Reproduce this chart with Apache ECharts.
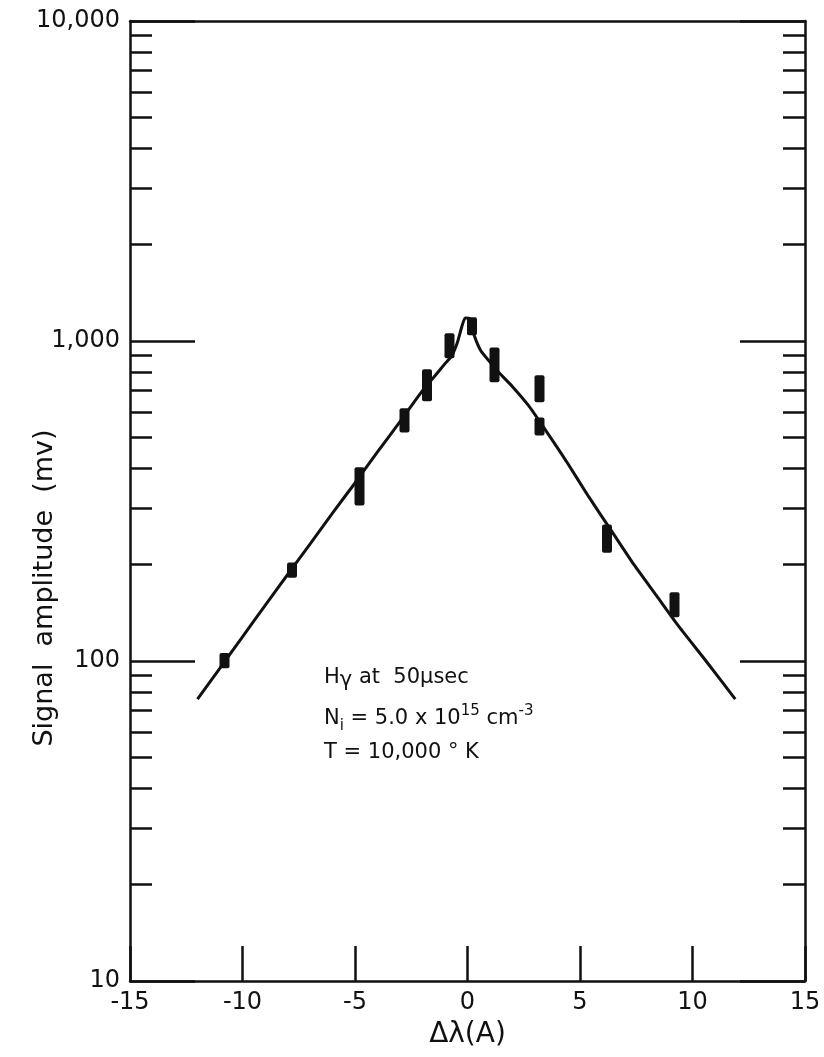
<!DOCTYPE html>
<html>
<head>
<meta charset="utf-8">
<script src="https://cdn.jsdelivr.net/npm/echarts@6/dist/echarts.min.js"></script>
<style>
  html, body { margin: 0; padding: 0; background: #fff; }
  #chart { width: 824px; height: 1057px; }
</style>
</head>
<body>
<div id="chart"></div>
<script>
// Wavelength offsets (Å) and measured signal ranges (mV) for the error bars
const barX    = [-10.8, -7.8, -4.8, -2.8, -1.8, -0.8, 0.2, 1.2, 3.2, 3.2, 6.2, 9.2];
const barLow  = [95, 182, 306, 518, 648, 883, 1042, 743, 643, 507, 218, 137];
const barHigh = [106, 203, 403, 616, 816, 1057, 1186, 955, 781, 577, 267, 164];

// Fitted line profile
const curveX = [-12.0, -11.0, -10.0, -9.0, -8.0, -7.0, -6.0, -5.0, -4.0, -3.0, -2.0, -1.5, -1.0, -0.7, -0.45, -0.25, -0.1,
                0.1, 0.3, 0.6, 1.0, 1.3, 2.0, 2.7, 3.4, 4.4, 5.4, 6.4, 7.4, 8.4, 9.4, 10.6, 11.9];
const curveY = [76, 95, 119, 149, 186, 232, 290, 360, 450, 560, 700, 770, 850, 900, 990, 1110, 1180,
                1175, 1040, 930, 860, 810, 720, 630, 535, 420, 325, 255, 200, 160, 128, 100, 76];

// Axis ticks
const xTickStep = 5;
const yMajorTicks = [10, 100, 1000, 10000];
const yMinorTicks = [20, 30, 40, 50, 60, 70, 80, 90,
                     200, 300, 400, 500, 600, 700, 800, 900,
                     2000, 3000, 4000, 5000, 6000, 7000, 8000, 9000];

const FONT = '"DejaVu Sans", sans-serif';
const INK = '#111';

function yAxisDef(position, ticks, len, showLine, showLabel) {
  return {
    type: 'log', logBase: 10, min: 10, max: 10000, position: position,
    axisLine: { show: showLine, onZero: false, lineStyle: { color: INK, width: 2.5 } },
    axisTick: { show: true, inside: true, length: len, customValues: ticks,
                lineStyle: { color: INK, width: 2.5 } },
    axisLabel: { show: showLabel, customValues: ticks, color: INK, fontSize: 24, fontFamily: FONT, margin: 10,
                 formatter: v => Math.round(v).toLocaleString('en-US') },
    splitLine: { show: false }
  };
}

const chart = echarts.init(document.getElementById('chart'), null, { renderer: 'canvas' });

chart.setOption({
  backgroundColor: '#fff',
  animation: false,
  grid: { left: 130, right: 19, top: 21, bottom: 76, containLabel: false },
  xAxis: [
    {
      type: 'value', min: -15, max: 15, interval: xTickStep, position: 'bottom',
      name: 'Δλ(A)', nameLocation: 'middle', nameGap: 40,
      nameTextStyle: { color: INK, fontSize: 28, fontFamily: FONT },
      axisLine: { onZero: false, lineStyle: { color: INK, width: 2.5 } },
      axisTick: { inside: true, length: 35, lineStyle: { color: INK, width: 2.5 } },
      axisLabel: { color: INK, fontSize: 24, fontFamily: FONT, margin: 10 },
      splitLine: { show: false }
    },
    {
      type: 'value', min: -15, max: 15, position: 'top',
      axisLine: { onZero: false, lineStyle: { color: INK, width: 2.5 } },
      axisTick: { show: false }, axisLabel: { show: false }, splitLine: { show: false }
    }
  ],
  yAxis: [
    yAxisDef('left', yMajorTicks, 65, true, true),
    yAxisDef('left', yMinorTicks, 22, false, false),
    yAxisDef('right', yMajorTicks, 65, true, false),
    yAxisDef('right', yMinorTicks, 22, false, false)
  ],
  graphic: [
    {
      type: 'text', x: 45, y: 588, rotation: Math.PI / 2,
      style: { text: 'Signal  amplitude  (mv)', fill: INK, font: '27px ' + FONT,
               align: 'center', verticalAlign: 'middle' }
    },
    {
      type: 'text', left: 324, top: 664,
      style: {
        text: 'H{sub|γ} at  50μsec', fill: INK, font: '21px ' + FONT, lineHeight: 28,
        rich: { sub: { font: '21px ' + FONT, fill: INK, padding: [6, 0, 0, 0] } }
      }
    },
    {
      type: 'text', left: 324, top: 704,
      style: {
        text: 'N{sub|i} = 5.0 x 10{sup|15} cm{sup|-3}', fill: INK, font: '21px ' + FONT, lineHeight: 30,
        rich: {
          sub: { font: '15px ' + FONT, fill: INK, verticalAlign: 'bottom', lineHeight: 30 },
          sup: { font: '15px ' + FONT, fill: INK, verticalAlign: 'top', lineHeight: 30 }
        }
      }
    },
    {
      type: 'text', left: 324, top: 742,
      style: { text: 'T = 10,000 ° K', fill: INK, font: '21px ' + FONT }
    }
  ],
  series: [
    {
      type: 'line', xAxisIndex: 0, yAxisIndex: 0,
      data: curveX.map((x, i) => [x, curveY[i]]),
      smooth: 0.2, showSymbol: false,
      lineStyle: { color: INK, width: 3 }
    },
    {
      type: 'custom', xAxisIndex: 0, yAxisIndex: 0,
      data: barX.map((x, i) => [x, barLow[i], barHigh[i]]),
      renderItem: function (params, api) {
        const lo = api.coord([api.value(0), api.value(1)]);
        const hi = api.coord([api.value(0), api.value(2)]);
        return {
          type: 'rect',
          shape: { x: lo[0] - 5, y: hi[1], width: 10, height: lo[1] - hi[1], r: 2 },
          style: { fill: INK }
        };
      },
      z: 3
    }
  ]
});
</script>
</body>
</html>
